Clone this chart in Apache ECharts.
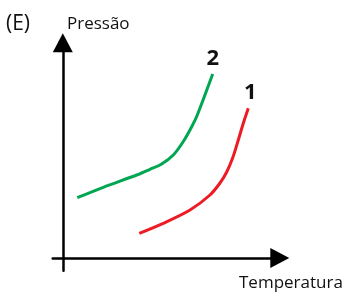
<!DOCTYPE html>
<html>
<head>
<meta charset="utf-8">
<script src="https://cdn.jsdelivr.net/npm/echarts@6/dist/echarts.min.js"></script>
<style>
html,body{margin:0;padding:0;background:#fff;}
#c{width:353px;height:295px;}
</style>
</head>
<body>
<div id="c"></div>
<script>
// Curve 2 (green): [temperature, pressure] in arbitrary units
const curve2T = [14.5, 40.5, 73.9, 87.2, 98.9, 110.5, 120.5, 128.9, 134.5, 149.9];
const curve2P = [60.3, 70.7, 83.0, 88.7, 94.0, 103.0, 116.5, 131.3, 143.0, 184.0];
// Curve 1 (red)
const curve1T = [76.5, 100.5, 127.2, 147.2, 157.2, 163.9, 170.2, 175.5, 180.5, 185.5];
const curve1P = [24.7, 34.7, 48.0, 63.0, 75.0, 86.0, 101.0, 118.0, 134.7, 149.7];
const curveNames = ['2', '1'];
const axisTitles = { x: 'Temperatura', y: 'Pressão', panel: '(E)' };

function pairs(t, p) {
  return t.map((v, i) => [v, p[i]]);
}
function endMark(t, p, name, offset) {
  const n = t.length - 1;
  return {
    symbol: 'circle', symbolSize: 1, silent: true,
    itemStyle: { color: 'rgba(0,0,0,0)' },
    label: { show: true, formatter: name, position: 'top', distance: 4, offset: offset,
      fontFamily: 'Open Sans', fontWeight: 'bold', fontSize: 22, color: '#111' },
    data: [{ coord: [t[n], p[n]] }]
  };
}

const chart = echarts.init(document.getElementById('c'), null, { renderer: 'canvas' });
const font = 'Open Sans';
chart.setOption({
  animation: false,
  backgroundColor: '#fff',
  grid: { left: 52.7, right: 73.2, top: 42.8, bottom: 24.3, containLabel: false },
  title: [
    { text: axisTitles.panel, left: 6, top: 14, padding: 0,
      textStyle: { fontFamily: font, fontSize: 21, fontWeight: 'normal', color: '#111' } },
    { text: axisTitles.y, left: 67, top: 16, padding: 0,
      textStyle: { fontFamily: font, fontSize: 17, fontWeight: 'normal', color: '#111' } },
    { text: axisTitles.x, left: 239, top: 275, padding: 0,
      textStyle: { fontFamily: font, fontSize: 17, fontWeight: 'normal', color: '#111' } }
  ],
  xAxis: {
    type: 'value', min: -10.1, max: 217,
    splitLine: { show: false }, axisTick: { show: false }, axisLabel: { show: false },
    axisLine: { show: true, onZero: true, symbol: ['none', 'triangle'], symbolSize: [20, 19],
      lineStyle: { color: '#000', width: 2.5 } }
  },
  yAxis: {
    type: 'value', min: -12.7, max: 215.2,
    splitLine: { show: false }, axisTick: { show: false }, axisLabel: { show: false },
    axisLine: { show: true, onZero: true, symbol: ['none', 'triangle'], symbolSize: [20, 19],
      lineStyle: { color: '#000', width: 2.5 } }
  },
  series: [
    { type: 'line', name: curveNames[0], data: pairs(curve2T, curve2P),
      smooth: 0.3, showSymbol: false,
      lineStyle: { color: '#00a651', width: 3 }, itemStyle: { color: '#00a651' },
      markPoint: endMark(curve2T, curve2P, curveNames[0], [0, 0]) },
    { type: 'line', name: curveNames[1], data: pairs(curve1T, curve1P),
      smooth: 0.3, showSymbol: false,
      lineStyle: { color: '#ed1c24', width: 3 }, itemStyle: { color: '#ed1c24' },
      markPoint: endMark(curve1T, curve1P, curveNames[1], [2, 0]) }
  ]
});
</script>
</body>
</html>
